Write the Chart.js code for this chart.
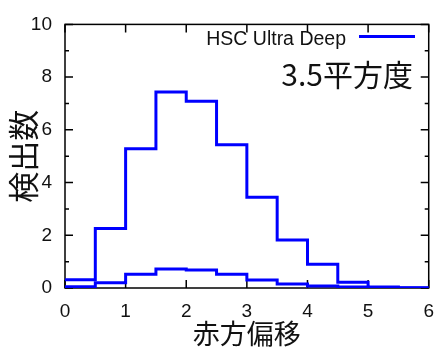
<!DOCTYPE html>
<html>
<head>
<meta charset="utf-8">
<script src="https://cdn.jsdelivr.net/npm/chart.js@4"></script>
<style>
  html, body { margin: 0; padding: 0; background: #fff; }
  #wrap { width: 446px; height: 347px; }
</style>
</head>
<body>
<div id="wrap"><canvas id="chart" width="446" height="347"></canvas></div>
<script>
// bin edges along the redshift axis (0.5 wide bins)
const binEdges = [0, 0.5, 1, 1.5, 2, 2.5, 3, 3.5, 4, 4.5, 5, 5.5, 6];
// counts per bin
const upperCounts = [0.31, 2.26, 5.28, 7.44, 7.08, 5.43, 3.44, 1.82, 0.90, 0.22, 0.04, 0.01];
const lowerCounts = [0.05, 0.20, 0.52, 0.72, 0.68, 0.52, 0.30, 0.15, 0.08, 0.04, 0.01, 0.00];
const xTicks = [0, 1, 2, 3, 4, 5, 6];
const yTicks = [0, 2, 4, 6, 8, 10];
const yMinorTicks = [1, 3, 5, 7, 9];
const legendLabel = "HSC Ultra Deep";
const areaLabel = "3.5平方度";

const latin = "'Liberation Sans', Arial, sans-serif";
const cjk = "'Noto Sans CJK JP', 'Noto Sans', sans-serif";

// turn bin counts into step points (last edge repeats the last value)
function steps(counts) {
  const pts = counts.map((c, i) => ({ x: binEdges[i], y: c }));
  pts.push({ x: binEdges[binEdges.length - 1], y: counts[counts.length - 1] });
  return pts;
}

// gnuplot style frame with inward ticks on all four sides
const framePlugin = {
  id: "frame",
  beforeDatasetsDraw(chart) {
    const { ctx, chartArea: a, scales } = chart;
    ctx.save();
    ctx.strokeStyle = "#000";
    ctx.lineWidth = 1.5;
    ctx.strokeRect(a.left, a.top, a.right - a.left, a.bottom - a.top);
    ctx.beginPath();
    xTicks.forEach(v => {
      const px = scales.x.getPixelForValue(v);
      ctx.moveTo(px, a.bottom); ctx.lineTo(px, a.bottom - 8);
      ctx.moveTo(px, a.top); ctx.lineTo(px, a.top + 8);
    });
    yTicks.forEach(v => {
      const py = scales.y.getPixelForValue(v);
      ctx.moveTo(a.left, py); ctx.lineTo(a.left + 8, py);
      ctx.moveTo(a.right, py); ctx.lineTo(a.right - 8, py);
    });
    yMinorTicks.forEach(v => {
      const py = scales.y.getPixelForValue(v);
      ctx.moveTo(a.left, py); ctx.lineTo(a.left + 4, py);
      ctx.moveTo(a.right, py); ctx.lineTo(a.right - 4, py);
    });
    ctx.stroke();
    ctx.restore();
  },
  afterDatasetsDraw(chart) {
    const { ctx } = chart;
    ctx.save();
    ctx.fillStyle = "#111";
    ctx.textAlign = "right";
    ctx.textBaseline = "alphabetic";
    ctx.font = "19.5px " + latin;
    ctx.fillText(legendLabel, 346, 44.5);
    ctx.strokeStyle = "#0000ff";
    ctx.lineWidth = 3;
    ctx.beginPath();
    ctx.moveTo(359, 36.5);
    ctx.lineTo(415, 36.5);
    ctx.stroke();
    ctx.font = "30px " + cjk;
    ctx.fillText(areaLabel, 413, 86);
    ctx.restore();
  }
};

new Chart(document.getElementById("chart"), {
  type: "line",
  data: {
    datasets: [
      { data: steps(upperCounts), stepped: "before", borderColor: "#0000ff", borderWidth: 3, pointRadius: 0, fill: false },
      { data: steps(lowerCounts), stepped: "before", borderColor: "#0000ff", borderWidth: 3, pointRadius: 0, fill: false }
    ]
  },
  options: {
    responsive: false,
    animation: false,
    layout: { padding: { top: 18, right: 7, left: 0, bottom: 0 } },
    plugins: { legend: { display: false }, tooltip: { enabled: false } },
    scales: {
      x: {
        type: "linear",
        min: 0,
        max: 6,
        afterFit(scale) { scale.height = 59; },
        afterBuildTicks(scale) { scale.ticks = xTicks.map(v => ({ value: v })); },
        grid: { display: false, drawTicks: false },
        border: { display: false },
        ticks: { padding: 12, color: "#111", font: { family: latin, size: 19 } },
        title: {
          display: true,
          text: "赤方偏移",
          color: "#111",
          font: { family: cjk, size: 27, lineHeight: 1 },
          padding: { top: -5, bottom: 0 }
        }
      },
      y: {
        min: 0,
        max: 10,
        afterFit(scale) { scale.width = 65; },
        afterBuildTicks(scale) { scale.ticks = yTicks.map(v => ({ value: v })); },
        grid: { display: false, drawTicks: false },
        border: { display: false },
        ticks: { padding: 13, color: "#111", font: { family: latin, size: 19 } },
        title: {
          display: true,
          text: "検出数",
          color: "#111",
          font: { family: cjk, size: 31, lineHeight: 1 },
          padding: { top: 8, bottom: 0 }
        }
      }
    }
  },
  plugins: [framePlugin]
});
</script>
</body>
</html>
